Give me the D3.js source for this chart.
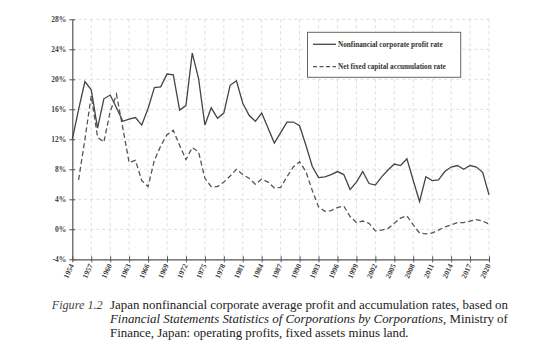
<!DOCTYPE html>
<html><head><meta charset="utf-8">
<script src="https://cdn.jsdelivr.net/npm/d3@7"></script>
<style>
html,body{margin:0;padding:0;background:#fff;}
svg{display:block;}
</style></head>
<body>
<svg id="c" width="540" height="355"></svg>
<script>
const years = d3.range(1954, 2021);
const profitRate = [12.0,16.0,19.7,18.6,13.5,17.4,17.9,16.2,14.4,14.7,
 14.9,13.9,16.1,18.9,19.0,20.7,20.6,15.9,16.5,23.5,
 20.1,13.9,16.2,14.8,15.5,19.2,19.8,16.8,15.2,14.4,
 15.5,13.5,11.5,12.9,14.3,14.3,13.8,11.2,8.4,6.9,
 7.0,7.3,7.7,7.3,5.3,6.3,7.7,6.1,5.9,7.0,
 7.9,8.7,8.5,9.4,6.5,3.7,7.0,6.5,6.6,7.7,
 8.3,8.5,8.0,8.5,8.3,7.6,4.6];
const accumRate = [null,6.6,12.0,17.8,12.3,11.6,15.7,18.0,13.5,8.9,
 9.2,6.5,5.7,9.2,11.1,12.6,13.2,11.2,9.3,10.9,
 10.3,6.8,5.7,5.7,6.3,7.1,8.0,7.3,6.8,6.0,
 6.7,6.3,5.5,5.6,7.0,8.3,9.0,7.7,5.2,3.0,
 2.4,2.5,2.9,3.1,1.7,0.9,1.1,0.8,-0.2,-0.1,
 0.1,0.8,1.5,1.8,0.6,-0.5,-0.6,-0.5,-0.1,0.3,
 0.6,0.9,0.9,1.1,1.3,1.1,0.7];
const xTicks = d3.range(1954, 2021, 3);
const yTicks = [-4,0,4,8,12,16,20,24,28];
const seriesNames = ["Nonfinancial corporate profit rate","Net fixed capital accumulation rate"];
const captionLabel = "Figure 1.2";

const svg = d3.select("#c");
const x = d3.scaleLinear().domain([1954,2020]).range([72.3,489]);
const y = d3.scaleLinear().domain([-4,28]).range([259.3,19.3]);
const serif = "'Liberation Serif','Times New Roman',serif";

// gridlines
const g = svg.append("g");
g.selectAll("line.h").data(yTicks.filter(d=>d>-4)).join("line")
  .attr("x1", x(1954)).attr("x2", x(2020))
  .attr("y1", d=>y(d)).attr("y2", d=>y(d))
  .attr("stroke","#d4d4d4").attr("stroke-width",0.8).attr("stroke-dasharray","3,3");
g.selectAll("line.v").data(xTicks.slice(1)).join("line")
  .attr("x1", d=>x(d)).attr("x2", d=>x(d))
  .attr("y1", y(28)).attr("y2", y(-4))
  .attr("stroke","#d4d4d4").attr("stroke-width",0.8).attr("stroke-dasharray","3,3");

// axes
const yAxis = d3.axisLeft(y).tickValues(yTicks).tickFormat(d=>d+"%").tickSizeInner(3).tickSizeOuter(0).tickPadding(4);
const ya = svg.append("g").attr("transform",`translate(${x(1954)},0)`).call(yAxis);
ya.select(".domain").attr("stroke","#555").attr("stroke-width",1.2);
ya.selectAll(".tick line").attr("stroke","#555").attr("x2",3).attr("x1",-3);
ya.selectAll("text").attr("font-family",serif).attr("font-size",7.5).attr("font-weight","bold").attr("fill","#444").attr("x",-6);

const xAxis = d3.axisBottom(x).tickValues(xTicks).tickFormat(d3.format("d")).tickSizeInner(3).tickSizeOuter(0);
const xa = svg.append("g").attr("transform",`translate(0,${y(-4)})`).call(xAxis);
xa.select(".domain").attr("stroke","#555").attr("stroke-width",1.2);
xa.selectAll(".tick line").attr("stroke","#555").attr("y1",-3).attr("y2",3);
xa.selectAll("text").attr("font-family",serif).attr("font-size",7.5).attr("font-weight","bold").attr("fill","#444")
  .attr("text-anchor","end").attr("dy","0.35em")
  .attr("transform","translate(-1,5) rotate(-65)").attr("x",0).attr("y",0);

// lines
const pts1 = years.map((yr,i)=>({yr, v:profitRate[i]}));
const pts2 = years.map((yr,i)=>({yr, v:accumRate[i]}));
const line = d3.line().defined(d=>d.v!==null).x(d=>x(d.yr)).y(d=>y(d.v));
svg.append("path").datum(pts2).attr("d",line).attr("fill","none")
  .attr("stroke","#555").attr("stroke-width",1.3).attr("stroke-dasharray","5,3");
svg.append("path").datum(pts1).attr("d",line).attr("fill","none")
  .attr("stroke","#444").attr("stroke-width",1.3);

// legend
const lg = svg.append("g");
lg.append("rect").attr("x",307.5).attr("y",32.3).attr("width",153.2).attr("height",45)
  .attr("fill","#fff").attr("stroke","#666").attr("stroke-width",1);
const rowsY = [44.3,66.7];
seriesNames.forEach((nm,i)=>{
  lg.append("line").attr("x1",313).attr("x2",336).attr("y1",rowsY[i]).attr("y2",rowsY[i])
    .attr("stroke", i? "#555":"#444").attr("stroke-width",1.3)
    .attr("stroke-dasharray", i? "4,2.5":null);
  lg.append("text").attr("x",338).attr("y",rowsY[i]).attr("dy","0.35em")
    .attr("font-family",serif).attr("font-size",7.2).attr("font-weight","bold").attr("fill","#333").text(nm);
});

// caption
const cap = svg.append("g").attr("font-family",serif).attr("font-size",12.9).attr("fill","#222");
cap.append("text").attr("x",51.7).attr("y",309).attr("font-size",12.2).attr("font-style","italic").attr("fill","#444").text(captionLabel);
cap.append("text").attr("x",110).attr("y",309).text("Japan nonfinancial corporate average profit and accumulation rates, based on");
const l2 = cap.append("text").attr("x",110).attr("y",323);
l2.append("tspan").attr("font-style","italic").text("Financial Statements Statistics of Corporations by Corporations");
l2.append("tspan").text(", Ministry of");
cap.append("text").attr("x",110).attr("y",337).text("Finance, Japan: operating profits, fixed assets minus land.");
</script>
</body></html>
